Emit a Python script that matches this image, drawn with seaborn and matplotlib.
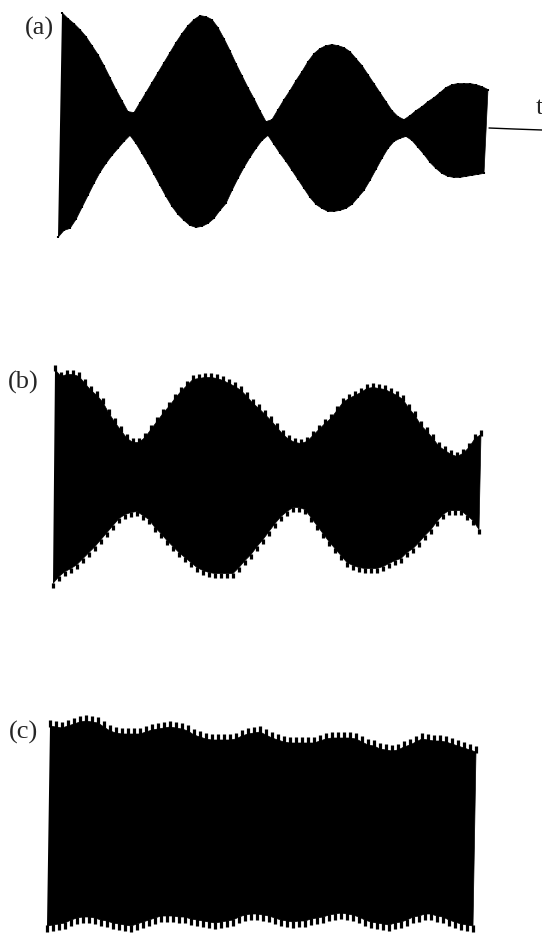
import numpy as np
import pandas as pd
import matplotlib
matplotlib.use("Agg")
import matplotlib.pyplot as plt
import seaborn as sns

# envelope values, one per carrier peak
# (amplitude about each trace's centre line)
a_top = [114, 108, 103, 97, 90, 81, 72, 61, 49, 37, 26, 15, 14, 24, 34, 44, 54, 64, 74, 84,
         93, 101, 107, 111, 110, 107, 99, 88, 76, 63, 51, 39, 28, 16, 5, 7, 17, 27, 36, 46,
         55, 65, 73, 78, 81, 82, 81, 79, 75, 68, 61, 52, 43, 34, 25, 16, 10, 7, 11, 16,
         20, 25, 29, 34, 39, 42, 43, 43, 43, 42, 40, 37]
a_bot = [-112, -105, -103, -94, -82, -70, -58, -47, -38, -30, -23, -16, -10, -18, -28, -38, -49,
         -60, -71, -81, -89, -95, -100, -102, -101, -98, -93, -85, -78, -65, -53, -42, -32, -23,
         -15, -10, -19, -28, -36, -45, -54, -63, -72, -79, -83, -86, -86, -85, -83, -79, -72, -65,
         -55, -44, -33, -23, -16, -13, -11, -15, -22, -29, -37, -43, -48, -51, -52, -52, -51, -50,
         -49, -48]

b_top = [111, 104, 106, 106, 104, 97, 90, 85, 78, 67, 58, 50, 42, 38, 38, 43, 51, 59, 67, 74,
         82, 89, 95, 101, 102, 103, 103, 102, 100, 97, 94, 90, 84, 77, 72, 66, 60, 53, 46, 41,
         38, 37, 39, 45, 51, 57, 62, 70, 78, 82, 85, 88, 92, 93, 92, 91, 88, 85, 81, 72,
         65, 55, 49, 42, 34, 30, 26, 24, 27, 33, 42, 46]
b_bot = [-112, -105, -100, -97, -93, -87, -81, -75, -68, -61, -54, -47, -43, -41, -40, -44, -48,
         -56, -62, -69, -75, -81, -86, -91, -96, -99, -101, -102, -102, -102, -102, -96, -89, -83,
         -75, -68, -60, -52, -45, -40, -36, -36, -38, -46, -54, -62, -70, -77, -84, -91, -94, -96,
         -97, -97, -97, -95, -92, -89, -87, -81, -77, -71, -64, -58, -50, -43, -39, -39, -39, -44,
         -49, -58]

c_top = [105, 104, 103, 105, 107, 109, 110, 109, 108, 104, 100, 98, 97, 97, 97, 97, 99, 101, 102,
         103, 104, 103, 102, 100, 96, 94, 92, 91, 91, 91, 91, 92, 95, 97, 98, 99, 96, 93, 91, 89,
         88, 88, 88, 88, 88, 90, 92, 93, 93, 93, 93, 92, 89, 86, 85, 82, 81, 80, 81, 84, 86, 89,
         92, 91, 90, 90, 89, 87, 85, 83, 81, 79]
c_bot = [-107, -106, -105, -104, -101, -99, -98, -98, -99, -101, -102, -104, -105, -106, -107,
         -105, -103, -101, -99, -97, -97, -97, -98, -98, -100, -101, -102, -103, -104, -103, -102,
         -101, -98, -96, -95, -95, -96, -97, -99, -101, -102, -103, -102, -102, -100, -99, -98, -96,
         -95, -94, -95, -96, -98, -101, -103, -104, -105, -106, -104, -103, -101, -98, -97, -95,
         -95, -97, -98, -101, -103, -105, -106, -107]

# time axis stub after trace (a)
axis_t = [431, 456, 484]
axis_a = [-2, -3, -4]

labels = ["(a)", "(b)", "(c)"]
PEAK_STEP = 6

W, H = 542, 933


def panel_axes(fig, top, bottom, left_px, baseline):
    # one axes per trace, scaled 1 unit = 1 pixel
    ax = fig.add_axes([0, 1 - bottom / H, 1, (bottom - top) / H])
    ax.set_xlim(-left_px, W - left_px)
    ax.set_ylim(baseline - bottom, baseline - top)
    ax.axis("off")
    return ax


def draw_trace(ax, top, bot, top_start, depth, tooth_lw):
    top = np.asarray(top, dtype=float)
    bot = np.asarray(bot, dtype=float)
    t_top = top_start + PEAK_STEP * np.arange(len(top))
    t_bot = PEAK_STEP * np.arange(len(bot))

    # solid body under the carrier peaks
    xs = np.concatenate([t_top, t_bot[::-1]])
    ys = np.concatenate([top - depth, (bot + depth)[::-1]])
    ax.fill(xs, ys, color="black", lw=0)
    edge = pd.DataFrame({"t": xs, "a": ys})
    sns.lineplot(data=edge, x="t", y="a", sort=False, color="black", lw=0.5, ax=ax)

    ax.vlines(t_top, top - depth - 1, top, color="black", lw=tooth_lw)
    ax.vlines(t_bot, bot, bot + depth + 1, color="black", lw=tooth_lw)
    ax.axis("off")


sns.set_style("white")
plt.rcParams["font.family"] = ["Liberation Serif", "DejaVu Serif"]

fig = plt.figure(figsize=(W / 100, H / 100), dpi=100)

ax_a = panel_axes(fig, 0, 310, 58, 126)
draw_trace(ax_a, a_top, a_bot, 4, 0.6, 1.5)
sns.lineplot(x=axis_t, y=axis_a, color="black", lw=1.0, ax=ax_a)
ax_a.axis("off")
ax_a.text(478, 18, "t", fontsize=19, ha="left", va="center")
ax_a.text(-19, 98, labels[0], fontsize=19, ha="center", va="center")

ax_b = panel_axes(fig, 310, 620, 53, 476)
draw_trace(ax_b, b_top, b_bot, 2, 4.5, 2.3)
ax_b.text(-30, 94, labels[1], fontsize=19, ha="center", va="center")

ax_c = panel_axes(fig, 620, 933, 47, 825)
draw_trace(ax_c, c_top, c_bot, 3, 6.0, 2.3)
ax_c.text(-23, 93, labels[2], fontsize=19, ha="center", va="center")

fig.savefig("out.png", dpi=100)
